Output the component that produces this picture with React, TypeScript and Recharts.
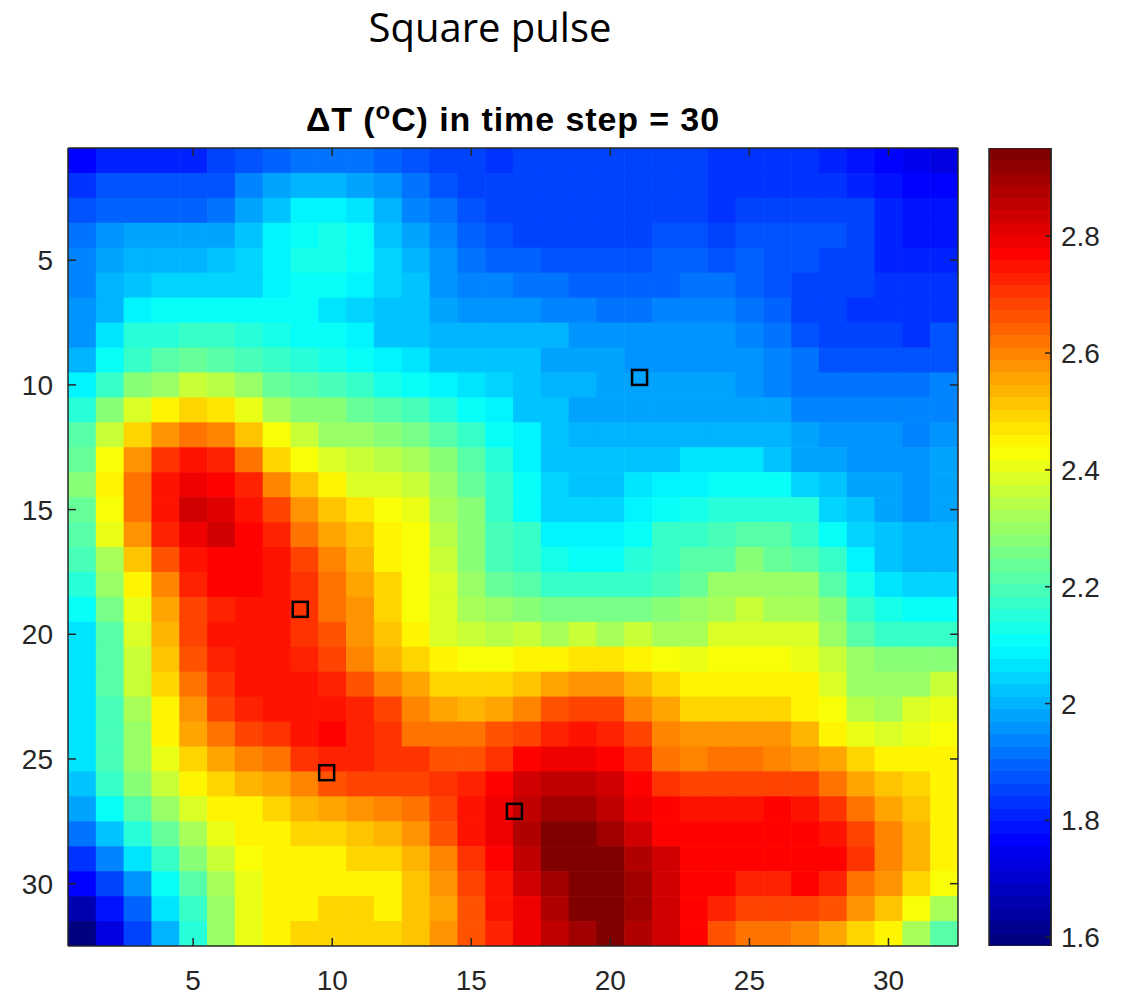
import React from 'react';
import { ScatterChart, Scatter, BarChart, Bar, XAxis, YAxis } from 'recharts';

// ΔT per grid cell, one array per row (row 1 at top), columns 1..32
const row01 = [1.76, 1.80, 1.80, 1.80, 1.81, 1.85, 1.87, 1.89, 1.91, 1.91, 1.91, 1.89, 1.87, 1.85, 1.85, 1.82, 1.86, 1.86, 1.86, 1.86, 1.86, 1.86, 1.85, 1.82, 1.82, 1.82, 1.82, 1.80, 1.78, 1.76, 1.74, 1.72];
const row02 = [1.84, 1.87, 1.87, 1.87, 1.87, 1.88, 1.94, 1.99, 2.00, 2.00, 1.99, 1.96, 1.92, 1.87, 1.86, 1.86, 1.85, 1.85, 1.85, 1.86, 1.86, 1.86, 1.86, 1.83, 1.83, 1.83, 1.83, 1.83, 1.81, 1.79, 1.76, 1.76];
const row03 = [1.88, 1.90, 1.90, 1.90, 1.90, 1.91, 1.98, 2.03, 2.08, 2.08, 2.06, 2.01, 1.94, 1.92, 1.87, 1.85, 1.85, 1.85, 1.85, 1.86, 1.86, 1.86, 1.86, 1.82, 1.86, 1.86, 1.86, 1.86, 1.85, 1.80, 1.78, 1.78];
const row04 = [1.91, 1.95, 1.97, 1.97, 1.97, 1.97, 2.03, 2.08, 2.10, 2.12, 2.10, 2.03, 1.99, 1.94, 1.89, 1.88, 1.85, 1.85, 1.85, 1.85, 1.85, 1.87, 1.87, 1.85, 1.87, 1.87, 1.87, 1.87, 1.86, 1.80, 1.79, 1.79];
const row05 = [1.94, 1.97, 2.01, 2.01, 2.01, 2.03, 2.05, 2.08, 2.13, 2.13, 2.10, 2.05, 2.01, 1.95, 1.91, 1.89, 1.89, 1.87, 1.87, 1.87, 1.87, 1.89, 1.89, 1.87, 1.89, 1.87, 1.87, 1.86, 1.86, 1.80, 1.80, 1.80];
const row06 = [1.94, 2.01, 2.03, 2.05, 2.05, 2.05, 2.05, 2.08, 2.10, 2.10, 2.08, 2.05, 2.03, 1.95, 1.94, 1.94, 1.91, 1.91, 1.89, 1.89, 1.89, 1.89, 1.91, 1.91, 1.89, 1.87, 1.86, 1.86, 1.86, 1.82, 1.82, 1.82];
const row07 = [1.95, 2.01, 2.08, 2.10, 2.10, 2.10, 2.10, 2.10, 2.10, 2.06, 2.04, 2.03, 2.02, 1.99, 1.96, 1.96, 1.96, 1.94, 1.94, 1.92, 1.92, 1.94, 1.94, 1.94, 1.92, 1.89, 1.86, 1.86, 1.84, 1.84, 1.82, 1.82];
const row08 = [1.96, 2.06, 2.14, 2.15, 2.17, 2.17, 2.14, 2.12, 2.10, 2.10, 2.08, 2.03, 2.02, 2.00, 2.00, 2.00, 2.00, 2.00, 1.96, 1.96, 1.96, 1.96, 1.96, 1.96, 1.94, 1.92, 1.88, 1.86, 1.86, 1.86, 1.84, 1.87];
const row09 = [2.01, 2.10, 2.17, 2.21, 2.24, 2.21, 2.20, 2.18, 2.14, 2.13, 2.10, 2.08, 2.06, 2.03, 2.02, 2.02, 2.02, 1.98, 1.98, 1.98, 1.96, 1.96, 1.96, 1.96, 1.96, 1.94, 1.92, 1.88, 1.88, 1.88, 1.88, 1.88];
const row10 = [2.08, 2.17, 2.27, 2.30, 2.36, 2.34, 2.29, 2.24, 2.21, 2.20, 2.18, 2.12, 2.10, 2.08, 2.06, 2.04, 2.03, 2.01, 2.01, 1.99, 1.99, 1.99, 1.99, 1.99, 1.96, 1.94, 1.92, 1.91, 1.91, 1.91, 1.91, 1.94];
const row11 = [2.15, 2.27, 2.38, 2.44, 2.49, 2.47, 2.40, 2.32, 2.27, 2.27, 2.24, 2.21, 2.19, 2.14, 2.10, 2.08, 2.03, 2.03, 1.99, 1.99, 1.99, 1.99, 1.99, 1.99, 1.99, 1.99, 1.94, 1.93, 1.93, 1.93, 1.93, 1.94];
const row12 = [2.21, 2.36, 2.50, 2.57, 2.62, 2.60, 2.51, 2.42, 2.36, 2.31, 2.29, 2.27, 2.25, 2.21, 2.17, 2.10, 2.08, 2.03, 2.00, 2.00, 2.00, 2.00, 2.00, 2.00, 2.00, 2.00, 1.99, 1.96, 1.96, 1.96, 1.94, 1.96];
const row13 = [2.24, 2.42, 2.57, 2.71, 2.75, 2.73, 2.62, 2.50, 2.42, 2.39, 2.37, 2.34, 2.32, 2.27, 2.21, 2.15, 2.08, 2.03, 2.03, 2.03, 2.03, 2.03, 2.06, 2.06, 2.06, 2.03, 1.99, 1.99, 1.96, 1.96, 1.96, 1.99];
const row14 = [2.27, 2.44, 2.62, 2.75, 2.80, 2.78, 2.72, 2.60, 2.51, 2.44, 2.39, 2.38, 2.36, 2.31, 2.24, 2.17, 2.10, 2.05, 2.03, 2.03, 2.06, 2.08, 2.08, 2.10, 2.10, 2.10, 2.05, 2.03, 1.99, 1.99, 1.96, 1.99];
const row15 = [2.24, 2.42, 2.62, 2.75, 2.83, 2.82, 2.75, 2.68, 2.57, 2.51, 2.47, 2.42, 2.41, 2.32, 2.27, 2.17, 2.10, 2.05, 2.05, 2.05, 2.08, 2.10, 2.12, 2.14, 2.14, 2.14, 2.14, 2.05, 2.03, 1.99, 1.96, 1.99];
const row16 = [2.21, 2.41, 2.57, 2.73, 2.80, 2.83, 2.78, 2.72, 2.62, 2.56, 2.51, 2.45, 2.43, 2.35, 2.27, 2.19, 2.17, 2.08, 2.08, 2.08, 2.10, 2.17, 2.18, 2.19, 2.21, 2.21, 2.17, 2.10, 2.05, 2.02, 2.00, 2.00];
const row17 = [2.20, 2.33, 2.51, 2.66, 2.75, 2.78, 2.78, 2.75, 2.68, 2.60, 2.53, 2.45, 2.43, 2.36, 2.27, 2.20, 2.17, 2.12, 2.10, 2.10, 2.14, 2.17, 2.21, 2.22, 2.27, 2.24, 2.22, 2.17, 2.09, 2.03, 2.01, 2.01];
const row18 = [2.15, 2.29, 2.44, 2.60, 2.72, 2.76, 2.76, 2.75, 2.71, 2.62, 2.56, 2.49, 2.43, 2.38, 2.31, 2.24, 2.21, 2.18, 2.18, 2.18, 2.18, 2.20, 2.24, 2.29, 2.30, 2.30, 2.29, 2.21, 2.12, 2.06, 2.04, 2.04];
const row19 = [2.10, 2.26, 2.41, 2.56, 2.68, 2.73, 2.75, 2.74, 2.71, 2.62, 2.57, 2.49, 2.43, 2.38, 2.33, 2.29, 2.27, 2.26, 2.26, 2.26, 2.26, 2.27, 2.29, 2.33, 2.36, 2.33, 2.33, 2.27, 2.18, 2.12, 2.10, 2.10];
const row20 = [2.06, 2.22, 2.38, 2.53, 2.68, 2.74, 2.75, 2.74, 2.71, 2.66, 2.58, 2.51, 2.44, 2.38, 2.37, 2.35, 2.37, 2.33, 2.37, 2.32, 2.37, 2.33, 2.33, 2.38, 2.38, 2.38, 2.38, 2.30, 2.21, 2.18, 2.18, 2.18];
const row21 = [2.06, 2.21, 2.37, 2.52, 2.66, 2.72, 2.75, 2.74, 2.73, 2.68, 2.60, 2.53, 2.50, 2.44, 2.43, 2.43, 2.44, 2.44, 2.47, 2.47, 2.44, 2.42, 2.41, 2.42, 2.42, 2.42, 2.41, 2.36, 2.29, 2.27, 2.27, 2.27];
const row22 = [2.06, 2.21, 2.37, 2.49, 2.62, 2.71, 2.74, 2.74, 2.74, 2.72, 2.66, 2.60, 2.56, 2.49, 2.49, 2.49, 2.51, 2.56, 2.58, 2.58, 2.53, 2.49, 2.45, 2.45, 2.45, 2.44, 2.44, 2.38, 2.30, 2.29, 2.31, 2.36];
const row23 = [2.06, 2.19, 2.33, 2.45, 2.57, 2.68, 2.72, 2.74, 2.74, 2.74, 2.72, 2.68, 2.60, 2.56, 2.53, 2.56, 2.60, 2.66, 2.68, 2.68, 2.60, 2.56, 2.50, 2.50, 2.50, 2.49, 2.45, 2.42, 2.35, 2.32, 2.38, 2.40];
const row24 = [2.06, 2.19, 2.31, 2.44, 2.56, 2.62, 2.68, 2.71, 2.74, 2.76, 2.73, 2.71, 2.62, 2.62, 2.62, 2.66, 2.68, 2.73, 2.75, 2.73, 2.68, 2.60, 2.58, 2.58, 2.58, 2.58, 2.53, 2.45, 2.41, 2.39, 2.40, 2.42];
const row25 = [2.06, 2.19, 2.29, 2.41, 2.49, 2.56, 2.60, 2.62, 2.71, 2.72, 2.72, 2.71, 2.71, 2.66, 2.66, 2.71, 2.76, 2.80, 2.80, 2.76, 2.72, 2.62, 2.60, 2.62, 2.62, 2.60, 2.58, 2.55, 2.49, 2.44, 2.44, 2.44];
const row26 = [2.03, 2.17, 2.27, 2.36, 2.44, 2.49, 2.53, 2.56, 2.60, 2.66, 2.68, 2.68, 2.68, 2.71, 2.72, 2.76, 2.83, 2.86, 2.86, 2.83, 2.76, 2.71, 2.68, 2.68, 2.68, 2.68, 2.68, 2.62, 2.56, 2.51, 2.49, 2.45];
const row27 = [1.99, 2.10, 2.21, 2.31, 2.38, 2.44, 2.45, 2.49, 2.53, 2.56, 2.58, 2.60, 2.62, 2.68, 2.74, 2.80, 2.86, 2.90, 2.90, 2.86, 2.80, 2.76, 2.74, 2.74, 2.74, 2.76, 2.74, 2.71, 2.62, 2.56, 2.52, 2.45];
const row28 = [1.92, 2.03, 2.14, 2.24, 2.33, 2.40, 2.44, 2.45, 2.49, 2.49, 2.51, 2.53, 2.58, 2.66, 2.74, 2.80, 2.88, 2.93, 2.95, 2.90, 2.84, 2.78, 2.76, 2.76, 2.76, 2.77, 2.77, 2.74, 2.68, 2.60, 2.53, 2.45];
const row29 = [1.82, 1.94, 2.06, 2.17, 2.27, 2.36, 2.42, 2.44, 2.45, 2.45, 2.49, 2.49, 2.53, 2.60, 2.71, 2.78, 2.86, 2.93, 2.95, 2.93, 2.88, 2.84, 2.77, 2.76, 2.76, 2.77, 2.77, 2.76, 2.71, 2.60, 2.53, 2.45];
const row30 = [1.76, 1.86, 1.96, 2.10, 2.22, 2.33, 2.40, 2.44, 2.45, 2.45, 2.45, 2.45, 2.51, 2.58, 2.68, 2.75, 2.84, 2.90, 2.95, 2.95, 2.90, 2.84, 2.78, 2.76, 2.73, 2.73, 2.76, 2.72, 2.62, 2.58, 2.49, 2.42];
const row31 = [1.65, 1.78, 1.89, 2.06, 2.18, 2.31, 2.41, 2.44, 2.45, 2.49, 2.49, 2.45, 2.51, 2.56, 2.66, 2.74, 2.80, 2.88, 2.93, 2.95, 2.90, 2.84, 2.78, 2.73, 2.68, 2.68, 2.68, 2.66, 2.58, 2.51, 2.42, 2.33];
const row32 = [1.59, 1.72, 1.85, 2.01, 2.15, 2.29, 2.41, 2.45, 2.49, 2.49, 2.49, 2.49, 2.51, 2.58, 2.66, 2.73, 2.80, 2.86, 2.90, 2.93, 2.88, 2.84, 2.77, 2.66, 2.62, 2.62, 2.60, 2.56, 2.49, 2.44, 2.33, 2.21];

const rows = [
  row01, row02, row03, row04, row05, row06, row07, row08,
  row09, row10, row11, row12, row13, row14, row15, row16,
  row17, row18, row19, row20, row21, row22, row23, row24,
  row25, row26, row27, row28, row29, row30, row31, row32,
];

// probe locations (column, row)
const markerCol = [21.05, 8.85, 9.8, 16.55];
const markerRow = [9.7, 19.0, 25.55, 27.1];

const xTicks = [5, 10, 15, 20, 25, 30];
const yTicks = [5, 10, 15, 20, 25, 30];
const cbarTicks = [1.6, 1.8, 2, 2.2, 2.4, 2.6, 2.8];

const V_MIN = 1.585;
const V_MAX = 2.951;
const N_LEVELS = 64;

const cbarRange = [{ name: 'ΔT', range: [V_MIN, V_MAX] }];

const PLOT_W = 890;
const PLOT_H = 798;
const CELL_W = PLOT_W / 32;
const CELL_H = PLOT_H / 32;

const AXIS_COLOR = '#262626';
const tickFont = { fontFamily: 'Liberation Sans, Arial, sans-serif', fontSize: 28, fill: AXIS_COLOR };

const clamp01 = (n: number) => Math.max(0, Math.min(1, n));

// MATLAB-style jet colormap, 64 levels
function jetLevel(idx: number) {
  const t = idx / (N_LEVELS - 1);
  const r = clamp01(1.5 - Math.abs(4 * t - 3));
  const g = clamp01(1.5 - Math.abs(4 * t - 2));
  const b = clamp01(1.5 - Math.abs(4 * t - 1));
  return `rgb(${Math.round(r * 255)},${Math.round(g * 255)},${Math.round(b * 255)})`;
}

function jet(v: number) {
  const t = (v - V_MIN) / (V_MAX - V_MIN);
  const idx = Math.max(0, Math.min(N_LEVELS - 1, Math.floor(t * N_LEVELS)));
  return jetLevel(idx);
}

const cells = rows.flatMap((row, r) => row.map((v, c) => ({ x: c + 1, y: r + 1, v })));
const markers = markerCol.map((x, i) => ({ x, y: markerRow[i] }));

const HeatCell = (props: any) => {
  const { cx, cy, payload } = props;
  return (
    <rect
      x={cx - CELL_W / 2}
      y={cy - CELL_H / 2}
      width={CELL_W + 0.6}
      height={CELL_H + 0.6}
      fill={jet(payload.v)}
    />
  );
};

const ProbeMarker = (props: any) => {
  const { cx, cy } = props;
  return <rect x={cx - 7.5} y={cy - 7.5} width={15} height={15} fill="none" stroke="#000" strokeWidth={2.5} />;
};

const blank = () => '';

const App: React.FC = () => {
  return (
    <div style={{ position: 'absolute', left: 0, top: 0, width: 1127, height: 997, background: '#fff' }}>
      <div
        style={{
          position: 'absolute', left: 0, top: 0, width: 980, textAlign: 'center',
          fontFamily: '"Open Sans", sans-serif', fontSize: 40, lineHeight: '54px', color: '#000',
        }}
      >
        Square pulse
      </div>
      <div
        style={{
          position: 'absolute', left: 68, top: 100, width: 890, textAlign: 'center',
          fontFamily: '"Liberation Sans", Arial, sans-serif', fontWeight: 'bold', fontSize: 34,
          lineHeight: '38px', letterSpacing: 0.9, color: '#000', whiteSpace: 'nowrap',
        }}
      >
        ΔT (<span style={{ fontSize: 24, position: 'relative', top: -12, lineHeight: 0 }}>o</span>C) in time step = 30
      </div>

      <div style={{ position: 'absolute', left: 0, top: 100 }}>
        <ScatterChart width={980} height={897} margin={{ top: 47, right: 21, bottom: 21, left: 8 }}>
          <Scatter data={cells} dataKey="y" shape={HeatCell} isAnimationActive={false} zIndex={100} />
          <Scatter data={markers} dataKey="y" shape={ProbeMarker} isAnimationActive={false} />
          <XAxis
            type="number" dataKey="x" xAxisId={0} domain={[0.5, 32.5]} ticks={xTicks}
            allowDataOverflow height={30} tickSize={-8} tickMargin={32}
            tick={tickFont} stroke={AXIS_COLOR} strokeWidth={1.5}
          />
          <XAxis
            type="number" dataKey="x" xAxisId="top" orientation="top" domain={[0.5, 32.5]} ticks={xTicks}
            allowDataOverflow height={1} tickSize={-8} tickFormatter={blank}
            stroke={AXIS_COLOR} strokeWidth={1.5}
          />
          <YAxis
            type="number" dataKey="y" yAxisId={0} domain={[0.5, 32.5]} ticks={yTicks} reversed
            allowDataOverflow width={60} tickSize={-8} tickMargin={23}
            tick={tickFont} stroke={AXIS_COLOR} strokeWidth={1.5}
          />
          <YAxis
            type="number" dataKey="y" yAxisId="right" orientation="right" domain={[0.5, 32.5]} ticks={yTicks} reversed
            allowDataOverflow width={1} tickSize={-8} tickFormatter={blank}
            stroke={AXIS_COLOR} strokeWidth={1.5}
          />
        </ScatterChart>
      </div>

      <div style={{ position: 'absolute', left: 960, top: 100 }}>
        <BarChart
          width={167} height={897} data={cbarRange}
          margin={{ top: 48, right: 0, bottom: 51, left: 29 }}
          barCategoryGap={0} barGap={0}
        >
          <defs>
            <linearGradient id="jetBar" x1="0" y1="1" x2="0" y2="0">
              {Array.from({ length: N_LEVELS }).flatMap((_, i) => [
                <stop key={`a${i}`} offset={i / N_LEVELS} stopColor={jetLevel(i)} />,
                <stop key={`b${i}`} offset={(i + 1) / N_LEVELS} stopColor={jetLevel(i)} />,
              ])}
            </linearGradient>
          </defs>
          <XAxis dataKey="name" hide />
          <YAxis
            type="number" orientation="right" domain={[V_MIN, V_MAX]} ticks={cbarTicks}
            allowDataOverflow width={76} tickSize={-6} tickMargin={16}
            tick={{ ...tickFont, textAnchor: 'start' }} stroke={AXIS_COLOR} strokeWidth={1.5}
          />
          <Bar dataKey="range" fill="url(#jetBar)" stroke={AXIS_COLOR} strokeWidth={1.5} isAnimationActive={false} />
        </BarChart>
      </div>
    </div>
  );
};

export default App;
